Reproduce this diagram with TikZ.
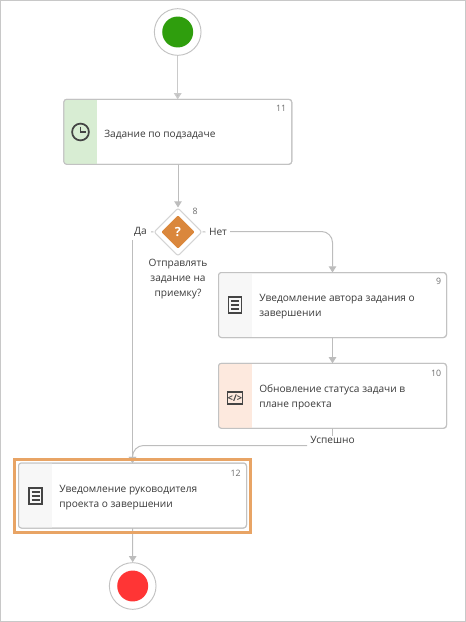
\documentclass[tikz,border=0pt]{standalone}
\usepackage{fontspec}
\setmainfont{Open Sans}
\usetikzlibrary{arrows.meta,shapes.geometric,calc}
\definecolor{lineg}{HTML}{BDBDBD}
\definecolor{boxg}{HTML}{C2C2C2}
\definecolor{txt}{HTML}{3A3A3A}
\definecolor{icon}{HTML}{444444}
\definecolor{numg}{HTML}{6E6E6E}
\definecolor{bandgreen}{HTML}{D8EDD3}
\definecolor{bandgrey}{HTML}{F7F7F7}
\definecolor{bandpeach}{HTML}{FDE9DE}
\definecolor{dorange}{HTML}{DA873C}
\definecolor{hilite}{HTML}{E8A465}
\definecolor{framec}{HTML}{C8C8C8}
\definecolor{startgreen}{HTML}{2F9E0D}
\definecolor{stopred}{HTML}{FF3535}
\tikzset{
 x=0.75pt,y=-0.75pt,
 taskbox/.style={draw=boxg,line width=0.75pt,rounded corners=2.2pt,minimum width=171pt,minimum height=48.75pt,inner sep=0pt,outer sep=0pt,fill=white},
 tasktext/.style={anchor=west,align=left,text=txt,font=\fontsize{7.6pt}{11.3pt}\selectfont,inner sep=0pt},
 numtext/.style={anchor=east,text=numg,font=\fontsize{6.6pt}{8pt}\selectfont,inner sep=0pt},
 lbl/.style={text=txt,font=\fontsize{7.6pt}{11pt}\selectfont,inner sep=0pt,align=center},
 conn/.style={draw=lineg,line width=0.75pt},
 arr/.style={conn,-{Triangle[length=4.6pt,width=5.6pt,fill=lineg]}},
 ring/.style={circle,draw=boxg,line width=0.7pt,minimum size=35pt,inner sep=0pt,fill=white},
 iconline/.style={draw=icon,line width=1.2pt},
}
\newcommand{\docicon}[1]{%
 \draw[iconline] ($(#1)+(-6.5,-8)$) rectangle ($(#1)+(6.5,8)$);
 \foreach \dy in {-3.8,0,3.8}{\draw[iconline,line width=1.1pt] ($(#1)+(-4,\dy)$) -- ($(#1)+(4,\dy)$);}
}
\newcommand{\taskband}[3]{%
 \begin{scope}
 \clip[rounded corners=2.2pt] (#1.north west) rectangle (#1.south east);
 \fill[#2] (#1.north west) rectangle ($(#1.south west)+(#3,0)$);
 \end{scope}
 \draw[draw=boxg,line width=0.75pt,rounded corners=2.2pt] (#1.north west) rectangle (#1.south east);
}
\begin{document}
\begin{tikzpicture}
\useasboundingbox (0,0) rectangle (466,622);
\draw[framec,line width=0.9pt] (0.6,0.6) rectangle (465.4,621.2);

% events
\node[ring] (start) at (177.7,32) {};
\node[circle,fill=startgreen,inner sep=0pt,minimum size=23.2pt] (startin) at (start) {};
\node[ring] (stop) at (132.7,586) {};
\node[circle,fill=stopred,inner sep=0pt,minimum size=23.2pt] (stopin) at (stop) {};

% tasks
\node[taskbox] (t11) at (177.8,131.8) {};
\node[taskbox] (t9) at (332.5,305) {};
\node[taskbox] (t10) at (332.5,395.8) {};
\node[taskbox] (t12) at (132.5,495.5) {};
\taskband{t11}{bandgreen}{33.5}
\taskband{t9}{bandgrey}{33}
\taskband{t10}{bandpeach}{33}
\taskband{t12}{bandgrey}{33}

% gateway
\node[diamond,draw=boxg!70!white,line width=0.8pt,minimum size=36pt,inner sep=0pt,fill=white,rounded corners=1.5pt] (gw) at (178,232) {};
\node[diamond,fill=dorange,minimum size=25pt,inner sep=0pt,rounded corners=0.8pt] (gwin) at (gw) {};
\node[text=white,font=\bfseries\fontsize{9.5pt}{10pt}\selectfont,inner sep=0pt] (gwq) at (gw) {?};
\node[numtext] (n8) at (198,211.5) {8};
\node[lbl] (gwtext) at (178,279) {Отправлять\\задание на\\приемку?};

% labels of flows
\node[lbl] (yes) at (140.5,231.5) {Да};
\node[lbl] (no) at (218,231.5) {Нет};
\node[lbl] (ok) at (332.5,440) {Успешно};

% texts
\node[tasktext] (tx11) at (104,135) {Задание по подзадаче};
\node[numtext] (n11) at (286.5,108) {11};
\node[tasktext] (tx9) at (259,306.5) {Уведомление автора задания о\\завершении};
\node[numtext] (n9) at (441.5,281.5) {9};
\node[tasktext] (tx10) at (259,397) {Обновление статуса задачи в\\плане проекта};
\node[numtext] (n10) at (441.5,373) {10};
\node[tasktext] (tx12) at (59,498) {Уведомление руководителя\\проекта о завершении};
\node[numtext] (n12) at (241,473) {12};

% icons
\coordinate (ic11) at (80.5,132);
\draw[iconline,line width=1.3pt] (ic11) circle (6.3pt);
\draw[iconline] ($(ic11)+(0,-5.5)$) -- (ic11) -- ($(ic11)+(5,0)$);
\docicon{235,305}
\docicon{35.5,496}
\coordinate (ic10) at (235,398);
\draw[iconline,line width=1.3pt] ($(ic10)+(-7.5,-6.3)$) rectangle ($(ic10)+(7.5,6.3)$);
\node[text=icon,font=\bfseries\fontsize{7pt}{7pt}\selectfont,inner sep=0pt] (ic10t) at (ic10) {</>};

% connectors
\draw[arr,line width=1pt,draw=lineg!80!white] (start) -- (t11.north -| start);
\draw[arr] (t11.south -| gw) -- (gw.north);
\draw[conn,shorten >=3pt] (gw.west) -- (yes.east);
\coordinate (yesturn) at (132.5,240);
\draw[arr] (yesturn) -- (t12.north);
\draw[conn,shorten >=2.5pt] (gw.east) -- (no.west);
\coordinate (noturn) at (t9.north |- no);
\draw[arr] (no.east) ++(3,0) -- ($(noturn)+(-11,0)$) to[out=0,in=90] ($(noturn)+(0,11)$) -- (t9.north);
\draw[arr] (t9.south) -- (t10.north);
\draw[conn] (t10.south) -- (ok.north);
\coordinate (okturn) at (t12.north |- ok.center);
\draw[arr] ($(ok.west)+(-3,5.5)$) -- ($(okturn)+(11,5.5)$) to[out=180,in=90] ($(okturn)+(0,17)$) -- (t12.north);
\draw[arr] (t12.south) -- (stop.north);

% highlight
\node[draw=hilite,line width=2.3pt,minimum width=176.5pt,minimum height=54.5pt,inner sep=0pt] (hl) at (132.5,495.8) {};
\end{tikzpicture}
\end{document}
